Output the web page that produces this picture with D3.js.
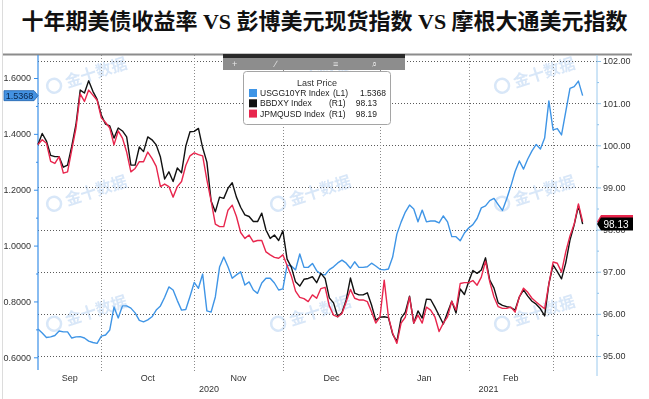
<!DOCTYPE html>
<html>
<head>
<meta charset="utf-8">
<script src="https://cdn.jsdelivr.net/npm/d3@7"></script>
<style>
    body { margin: 0; background: #fff; }
    svg { display: block; }
    text { font-family: "Liberation Sans", Arial, sans-serif; }
</style>
</head>
<body>
<svg id="chart"></svg>
<script>
const WIDTH = 649
const HEIGHT = 399

const TITLE = '十年期美债收益率 VS 彭博美元现货指数 VS 摩根大通美元指数'

// trading days shown, Sep 10 2020 .. Mar 10 2021 (weekdays)
const START_DATE = new Date(2020, 8, 10)
const END_DATE = new Date(2021, 2, 11)

const MONTH_LABELS = ['Sep', 'Oct', 'Nov', 'Dec', 'Jan', 'Feb']
const YEAR_LABELS = ['2020', '2021']

const LEFT_TICKS = [0.6, 0.8, 1.0, 1.2, 1.4, 1.6]
const LEFT_MINOR = [0.7, 0.9, 1.1, 1.3, 1.5]
const RIGHT_TICKS = [95, 96, 97, 98, 99, 100, 101, 102]
const RIGHT_MINOR = [95.5, 96.5, 97.5, 98.5, 99.5, 100.5, 101.5]

const SERIES_NAMES = ['USGG10YR Index', 'BBDXY Index', 'JPMQUSD Index']
const SERIES_AXES = ['(L1)', '(R1)', '(R1)']
const LAST_PRICES = ['1.5368', '98.13', '98.19']

// US 10y yield, left axis
const usgg10yr = [
    0.701, 0.687, 0.671, 0.673, 0.678, 0.694, 0.691, 0.691, 0.669, 0.673,
    0.674, 0.669, 0.658, 0.653, 0.650, 0.676, 0.680, 0.698, 0.780, 0.741,
    0.784, 0.784, 0.776, 0.759, 0.732, 0.727, 0.734, 0.745, 0.769, 0.784,
    0.815, 0.852, 0.841, 0.803, 0.769, 0.771, 0.818, 0.868, 0.847, 0.898,
    0.766, 0.762, 0.816, 0.923, 0.959, 0.924, 0.883, 0.895, 0.906, 0.859,
    0.870, 0.841, 0.829, 0.866, 0.883, 0.883, 0.866, 0.841, 0.845, 0.930,
    0.927, 0.913, 0.970, 0.922, 0.922, 0.936, 0.910, 0.898, 0.895, 0.914,
    0.924, 0.938, 0.948, 0.937, 0.919, 0.942, 0.922, 0.922, 0.924, 0.937,
    0.927, 0.915, 0.913, 0.916, 0.959, 1.041, 1.084, 1.120, 1.145, 1.131,
    1.085, 1.127, 1.085, 1.088, 1.088, 1.081, 1.106, 1.085, 1.032, 1.032,
    1.017, 1.045, 1.063, 1.075, 1.097, 1.135, 1.142, 1.161, 1.169, 1.147,
    1.126, 1.167, 1.213, 1.265, 1.303, 1.274, 1.310, 1.339, 1.362, 1.346,
    1.385, 1.518, 1.414, 1.419, 1.396, 1.480, 1.563, 1.569, 1.589, 1.5368,
]

// Bloomberg dollar spot, right axis
const bbdxy = [
    100.02, 100.28, 100.10, 99.76, 99.73, 99.73, 99.48, 99.53, 99.98, 100.50,
    101.31, 101.24, 101.53, 101.28, 101.09, 100.72, 100.50, 100.46, 100.17, 100.41,
    100.34, 100.20, 99.53, 99.53, 99.96, 99.85, 100.20, 100.13, 100.01, 99.72,
    99.20, 99.37, 99.14, 99.46, 99.35, 99.98, 100.32, 100.33, 100.40, 99.94,
    99.60, 98.68, 98.42, 98.77, 98.74, 98.98, 99.11, 98.77, 98.53, 98.35,
    98.31, 98.19, 98.19, 98.39, 97.99, 97.79, 97.87, 97.74, 97.97, 97.30,
    97.11, 96.76, 96.66, 96.82, 96.84, 96.88, 96.74, 96.96, 96.84, 96.38,
    96.26, 95.93, 96.03, 96.33, 96.85, 96.49, 96.45, 96.45, 96.50, 96.21,
    95.85, 95.92, 95.93, 95.91, 95.52, 95.34, 95.90, 96.04, 96.42, 95.78,
    96.07, 95.90, 96.35, 96.34, 96.16, 95.96, 95.76, 96.03, 96.30, 96.02,
    96.59, 96.46, 96.76, 97.03, 96.96, 97.04, 97.33, 96.80, 96.61, 96.26,
    96.20, 96.17, 96.15, 96.09, 96.40, 96.57, 96.42, 96.30, 96.23, 96.12,
    95.95, 96.71, 97.16, 97.00, 96.83, 97.21, 97.75, 98.11, 98.56, 98.13,
]

// JPM dollar index, right axis
const jpmqusd = [
    100.02, 100.13, 100.05, 99.62, 99.57, 99.73, 99.34, 99.37, 99.89, 100.41,
    101.22, 101.04, 101.31, 101.19, 101.07, 100.65, 100.54, 100.41, 100.01, 100.34,
    100.17, 99.84, 99.37, 99.45, 99.61, 99.61, 99.84, 99.69, 99.50, 99.02,
    99.08, 99.02, 98.77, 99.02, 99.14, 99.52, 99.75, 99.82, 99.78, 99.75,
    99.18, 98.68, 98.13, 98.07, 98.07, 98.46, 98.58, 98.31, 97.93, 97.79,
    97.87, 97.71, 97.74, 97.74, 97.47, 97.40, 97.34, 97.32, 97.40, 97.15,
    96.90, 96.54, 96.39, 96.36, 96.29, 96.45, 96.37, 96.60, 96.63, 96.19,
    95.97, 95.93, 96.01, 96.29, 96.58, 96.37, 96.33, 96.33, 96.29, 96.05,
    95.78, 95.93, 96.80, 95.93, 95.54, 95.30, 95.78, 95.92, 96.40, 95.78,
    95.97, 95.78, 96.16, 96.09, 95.93, 95.58, 95.78, 95.93, 96.30, 96.09,
    96.72, 96.74, 96.74, 96.79, 96.68, 96.87, 97.25, 96.76, 96.40, 96.17,
    96.13, 96.13, 96.16, 96.04, 96.40, 96.61, 96.51, 96.37, 96.28, 96.20,
    96.12, 96.71, 97.23, 97.20, 96.99, 97.47, 97.85, 98.13, 98.61, 98.19,
]

const COLORS = {
    blue: '#3f95e6',
    black: '#111111',
    red: '#e8264d',
}

const PLOT = { left: 38, right: 597, top: 55, bottom: 371 }

const dates = d3.timeDay.range(START_DATE, END_DATE).filter(d => d.getDay() % 6 !== 0)

const svg = d3.select('#chart')
    .attr('width', WIDTH)
    .attr('height', HEIGHT)
    .attr('viewBox', `0 0 ${WIDTH} ${HEIGHT}`)

const xScale = d3.scaleLinear().domain([0, 132.4]).range([PLOT.left, PLOT.right])
const yLeft = d3.scaleLinear().domain([0.6, 1.6]).range([357.3, 78])
const yRight = d3.scaleLinear().domain([95, 102]).range([356, 61])

// faint frame on the left
svg.append('line')
    .attr('x1', 2.5).attr('x2', 2.5).attr('y1', 0).attr('y2', HEIGHT)
    .attr('stroke', '#dcdcdc')

// Title
svg.append('text')
    .attr('x', WIDTH / 2)
    .attr('y', 29)
    .attr('text-anchor', 'middle')
    .style('font-family', '"Liberation Serif", "Noto Sans CJK SC", serif')
    .style('font-size', '22px')
    .style('font-weight', 'bold')
    .attr('fill', '#111')
    .text(TITLE)

// Watermarks
const marks = svg.append('g').attr('opacity', 0.55)
const markCenters = [[88, 80], [312, 80], [536, 80], [88, 198], [312, 198], [536, 198], [88, 318], [312, 318], [536, 318]]
markCenters.forEach(([cx, cy]) => {
    const g = marks.append('g').attr('transform', `translate(${cx},${cy}) rotate(-18)`)
    g.append('circle').attr('cx', -34).attr('cy', -5).attr('r', 7)
        .attr('fill', 'none').attr('stroke', '#b9d3f2').attr('stroke-width', 2.5)
    g.append('text').attr('x', -22).attr('y', 1)
        .style('font-family', '"Noto Sans CJK SC", sans-serif')
        .style('font-size', '16px').style('font-weight', 'bold')
        .attr('fill', '#b9d3f2')
        .text('金十数据')
})

// month boundaries from the trading day list
const monthStarts = dates.map((d, i) => i).filter(i => i > 0 && dates[i].getMonth() !== dates[i - 1].getMonth())
const edges = [PLOT.left, ...monthStarts.map(i => xScale(i)), PLOT.right]

const grid = svg.append('g').attr('fill', 'none')
grid.selectAll('.grid-h')
    .data(RIGHT_TICKS)
    .join('line')
    .attr('x1', PLOT.left).attr('x2', PLOT.right)
    .attr('y1', d => Math.round(yRight(d)) + 0.5).attr('y2', d => Math.round(yRight(d)) + 0.5)
    .attr('stroke', '#5a5a5a')
    .attr('stroke-dasharray', '1,2')
grid.selectAll('.grid-v')
    .data(monthStarts)
    .join('line')
    .attr('x1', d => Math.round(xScale(d)) + 0.5).attr('x2', d => Math.round(xScale(d)) + 0.5)
    .attr('y1', PLOT.top).attr('y2', PLOT.bottom)
    .attr('stroke', '#8a8a8a')
    .attr('stroke-dasharray', '1,2')

// top rule
svg.append('line')
    .attr('x1', 3).attr('x2', 632).attr('y1', 54.5).attr('y2', 54.5)
    .attr('stroke', '#8c8c8c').attr('stroke-width', 2)

// Left axis
const leftAxis = svg.append('g').attr('transform', `translate(${PLOT.left},0)`)
leftAxis.call(d3.axisLeft(yLeft).tickValues(LEFT_TICKS).tickFormat(d3.format('.4f')).tickSize(4).tickPadding(3))
leftAxis.append('g').call(d3.axisLeft(yLeft).tickValues(LEFT_MINOR).tickFormat('').tickSize(2))
leftAxis.selectAll('.domain').remove()
leftAxis.selectAll('line').attr('stroke', '#3a8fe8')
leftAxis.selectAll('text').attr('fill', '#333').style('font-size', '9px')
leftAxis.append('line')
    .attr('y1', PLOT.top).attr('y2', 370)
    .attr('stroke', '#3a8fe8').attr('stroke-width', 1.2)

// Right axis
const rightAxis = svg.append('g').attr('transform', `translate(${PLOT.right},0)`)
rightAxis.call(d3.axisRight(yRight).tickValues(RIGHT_TICKS).tickFormat(d3.format('.2f')).tickSize(4).tickPadding(2))
rightAxis.append('g').call(d3.axisRight(yRight).tickValues(RIGHT_MINOR).tickFormat('').tickSize(2))
rightAxis.selectAll('.domain').remove()
rightAxis.selectAll('line').attr('stroke', '#8cc0ea')
rightAxis.selectAll('text').attr('fill', '#333').style('font-size', '9px')
rightAxis.append('line')
    .attr('y1', PLOT.top).attr('y2', 376)
    .attr('stroke', '#9ccaee')

// Bottom labels: months centred in their visible span, years likewise
const monthGroup = svg.append('g').attr('fill', '#333').style('font-size', '9px').attr('text-anchor', 'middle')
MONTH_LABELS.forEach((m, i) => {
    monthGroup.append('text')
        .attr('x', (edges[i] + edges[i + 1]) / 2)
        .attr('y', 381)
        .text(m)
})
const yearSplit = xScale(monthStarts[MONTH_LABELS.indexOf('Jan') - 1])
const yearEdges = [PLOT.left, yearSplit, PLOT.right]
YEAR_LABELS.forEach((y, i) => {
    monthGroup.append('text')
        .attr('x', (yearEdges[i] + yearEdges[i + 1]) / 2)
        .attr('y', 392)
        .text(y)
})

// Lines
const plot = svg.append('g').attr('fill', 'none').attr('stroke-width', 1.4).attr('stroke-linejoin', 'round')
plot.append('path')
    .datum(usgg10yr)
    .attr('stroke', COLORS.blue)
    .attr('d', d3.line().x((d, i) => xScale(i)).y(d => yLeft(d)))
plot.append('path')
    .datum(bbdxy)
    .attr('stroke', COLORS.black)
    .attr('d', d3.line().x((d, i) => xScale(i)).y(d => yRight(d)))
plot.append('path')
    .datum(jpmqusd)
    .attr('stroke', COLORS.red)
    .attr('d', d3.line().x((d, i) => xScale(i)).y(d => yRight(d)))

// Toolbar strip
const toolbar = svg.append('g')
toolbar.append('rect').attr('x', 223).attr('y', 54).attr('width', 182).attr('height', 16).attr('fill', '#8d8d8d')
toolbar.append('rect').attr('x', 223).attr('y', 54).attr('width', 182).attr('height', 4).attr('fill', '#2a2a2a')
const toolIcons = [['+', 232], ['∕', 275], ['≡', 333], ['⌕', 372]]
toolIcons.forEach(([t, x]) => {
    toolbar.append('text').attr('x', x).attr('y', 67)
        .attr('fill', '#e8e8e8').style('font-size', '9px').text(t)
})

// Legend
const legend = svg.append('g')
legend.append('rect')
    .attr('x', 243.5).attr('y', 71.5).attr('width', 147).attr('height', 53).attr('rx', 3)
    .attr('fill', '#fff').attr('stroke', '#a5a5a5')
legend.append('text')
    .attr('x', 317).attr('y', 86).attr('text-anchor', 'middle')
    .attr('fill', '#333').style('font-size', '9px')
    .text('Last Price')
const legendColors = [COLORS.blue, COLORS.black, COLORS.red]
const valueEnds = [386, 377, 377]
const axisStarts = [333, 329, 329]
SERIES_NAMES.forEach((name, i) => {
    const y = 96 + i * 10.3
    legend.append('rect')
        .attr('x', 249).attr('y', y - 7).attr('width', 8).attr('height', 8)
        .attr('fill', legendColors[i])
    const row = legend.append('g').attr('fill', '#222').style('font-size', '8.5px')
    row.append('text').attr('x', 260).attr('y', y).text(name)
    row.append('text').attr('x', axisStarts[i]).attr('y', y).text(SERIES_AXES[i])
    row.append('text').attr('x', valueEnds[i]).attr('y', y).attr('text-anchor', 'end').text(LAST_PRICES[i])
})

// Last value tags
const tag = (cy, fill, textFill, label) => {
    const g = svg.append('g')
    g.append('path')
        .attr('d', `M${PLOT.right},${cy} L${PLOT.right + 4},${cy - 6.5} L633,${cy - 6.5} L633,${cy + 6.5} L${PLOT.right + 4},${cy + 6.5} Z`)
        .attr('fill', fill)
    if (label) {
        g.append('text')
            .attr('x', 616).attr('y', cy + 3.5).attr('text-anchor', 'middle')
            .attr('fill', textFill).style('font-size', '10px')
            .text(label)
    }
}
tag(yRight(jpmqusd[jpmqusd.length - 1]), COLORS.red, '#fff', null)
tag(yRight(bbdxy[bbdxy.length - 1]), '#000', '#fff', LAST_PRICES[1])

const blueY = yLeft(usgg10yr[usgg10yr.length - 1])
svg.append('path')
    .attr('d', `M4,${blueY - 5} L34,${blueY - 5} L38,${blueY} L34,${blueY + 5} L4,${blueY + 5} Z`)
    .attr('fill', '#4492e2').attr('stroke', '#1f62ad').attr('stroke-width', 0.8)
svg.append('text')
    .attr('x', 19.5).attr('y', blueY + 3.3).attr('text-anchor', 'middle')
    .attr('fill', '#08264c').style('font-size', '9px')
    .text(LAST_PRICES[0])
</script>
</body>
</html>
